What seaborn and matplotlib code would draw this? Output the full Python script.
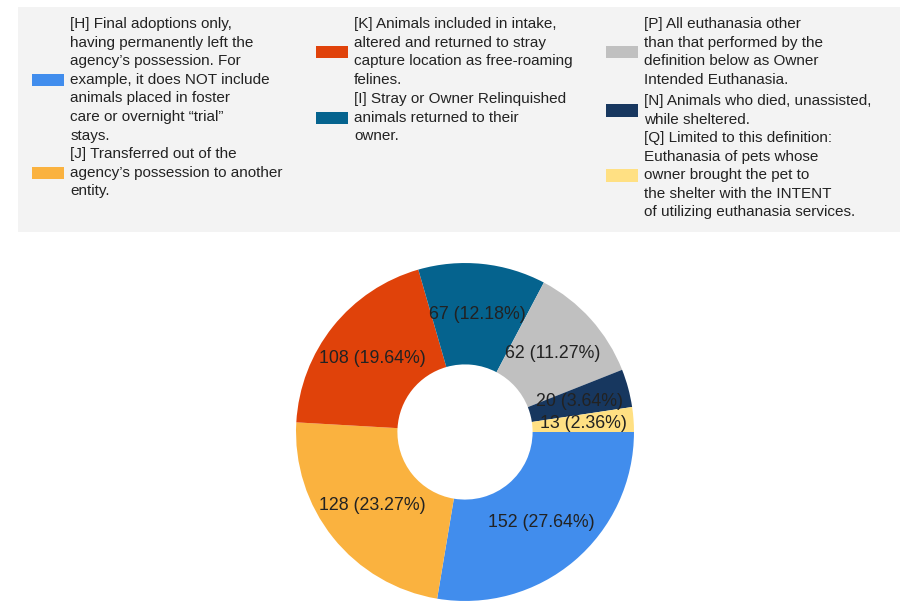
import matplotlib.pyplot as plt
import matplotlib.patches as mpatches
import seaborn as sns

# data (clockwise from 3 o'clock)
codes = ['H', 'J', 'K', 'I', 'P', 'N', 'Q']
counts = [152, 128, 108, 67, 62, 20, 13]
descriptions = [
    '[H] Final adoptions only,\nhaving permanently left the\nagency\u2019s possession. For\n'
    'example, it does NOT include\nanimals placed in foster\ncare or overnight \u201ctrial\u201d\nstays.',
    '[J] Transferred out of the\nagency\u2019s possession to another\nentity.',
    '[K] Animals included in intake,\naltered and returned to stray\ncapture location as free-roaming\nfelines.',
    '[I] Stray or Owner Relinquished\nanimals returned to their\nowner.',
    '[P] All euthanasia other\nthan that performed by the\ndefinition below as Owner\nIntended Euthanasia.',
    '[N] Animals who died, unassisted,\nwhile sheltered.',
    '[Q] Limited to this definition:\nEuthanasia of pets whose\nowner brought the pet to\n'
    'the shelter with the INTENT\nof utilizing euthanasia services.',
]

palette = sns.color_palette(['#418ded', '#fab23f', '#e0420a', '#05638e',
                             '#c0c0c0', '#17375f', '#ffe083'])

# where each legend entry sits (x of swatch, y of first text line, in pixels)
legend_pos = {'H': (32, 23), 'J': (32, 153),
              'K': (316, 23), 'I': (316, 98),
              'P': (606, 23), 'N': (606, 100), 'Q': (606, 137)}

sns.set_style('white')
plt.rcParams['font.family'] = ['Liberation Sans', 'DejaVu Sans']

fig = plt.figure(figsize=(9, 6.01), dpi=100)

# grey legend band
fig.patches.append(mpatches.Rectangle((18 / 900, 1 - 232 / 601), 882 / 900, 225 / 601,
                                      transform=fig.transFigure, facecolor='#f3f3f3',
                                      edgecolor='none', zorder=0))

# donut
ax = fig.add_axes([(465 - 171) / 900, (601 - 432 - 171) / 601, 342 / 900, 342 / 601])
total = sum(counts)
labels = ['{} ({:.2f}%)'.format(c, 100 * c / total) for c in counts]
wedges, texts = ax.pie(counts, colors=palette, startangle=0, counterclock=False,
                       labels=labels, labeldistance=0.7,
                       wedgeprops=dict(width=0.6, linewidth=0),
                       textprops=dict(fontsize=12.8, color='#222222'))
for t in texts:
    t.set_horizontalalignment('center')
    t.set_verticalalignment('center')
ax.set_xlim(-1.012, 1.012)
ax.set_ylim(-1.012, 1.012)
ax.set_aspect('equal')

# legend, one small legend per entry so the spacing follows the chart
for i, code in enumerate(codes):
    x, y = legend_pos[code]
    handle = mpatches.Patch(facecolor=palette[i], edgecolor='none')
    leg = fig.legend([handle], [descriptions[i]], loc='upper left',
                     bbox_to_anchor=(x / 900, 1 - (y - 6) / 601), frameon=False,
                     fontsize=11, handlelength=2.1, handleheight=0.9,
                     handletextpad=0.4, borderpad=0, borderaxespad=0)
    for t in leg.get_texts():
        t.set_linespacing(1.42)
        t.set_color('#222222')

fig.savefig('out.png', dpi=100)
